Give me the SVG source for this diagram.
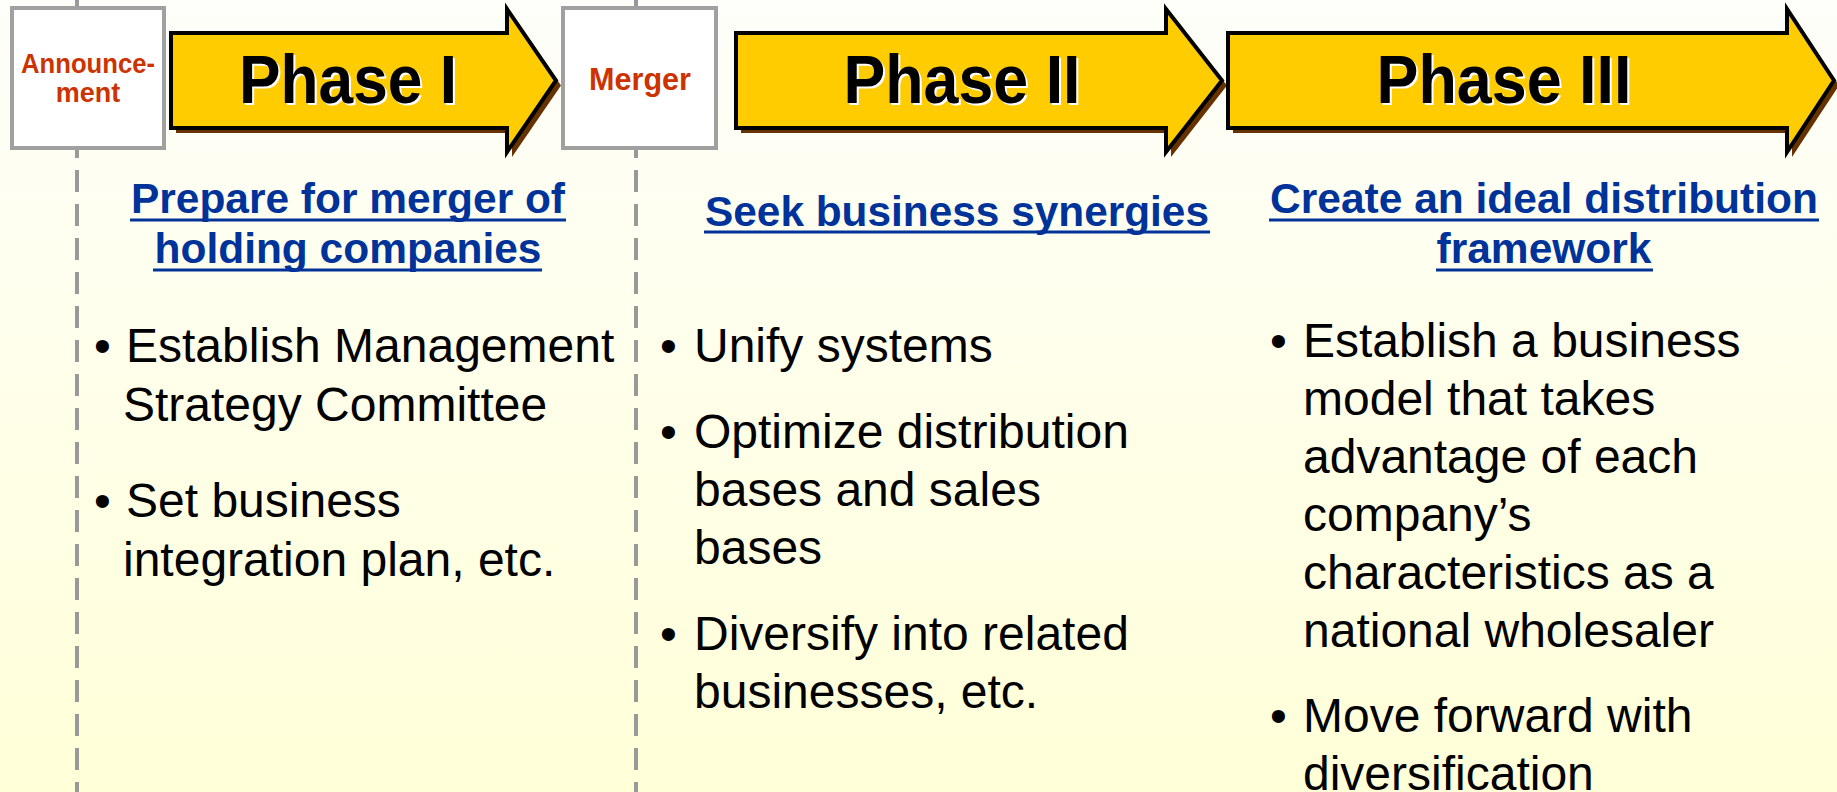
<svg xmlns="http://www.w3.org/2000/svg" width="1837" height="792" viewBox="0 0 1837 792">
  <defs>
    <linearGradient id="bg" x1="0" y1="0" x2="0" y2="1">
      <stop offset="0" stop-color="#FEFEFA"/>
      <stop offset="1" stop-color="#FFFFD8"/>
    </linearGradient>
  </defs>
  <style>
    .milestone { fill: #FFFFFF; stroke: #A0A0A0; stroke-width: 4; }
    .mtext { font-family: "Liberation Sans", Arial, sans-serif; font-weight: bold; fill: #CC3300; text-anchor: middle; }
    .divider { stroke: #999999; stroke-width: 4; stroke-dasharray: 22 12; fill: none; }
    .arrow { fill: #FFCC00; stroke: #000000; stroke-width: 4; stroke-linejoin: miter; }
    .shadow { fill: #663300; }
    .ptext { font-family: "Liberation Sans", Arial, sans-serif; font-weight: bold; font-size: 68px; text-anchor: middle; }
    .head { font-family: "Liberation Sans", Arial, sans-serif; font-weight: bold; font-size: 43px; fill: #003399; text-anchor: middle; }
    .uline { stroke: #003399; stroke-width: 3; }
    .body { font-family: "Liberation Sans", Arial, sans-serif; font-size: 48px; fill: #000000; }
  </style>
  <rect width="1837" height="792" fill="url(#bg)"/>

  <g id="connectors">
    <line class="divider" x1="77" y1="0" x2="77" y2="792"/>
    <line class="divider" x1="636" y1="0" x2="636" y2="792"/>
  </g>

  <g id="announcement">
    <rect class="milestone" x="12" y="8" width="152" height="140"/>
    <text class="mtext" x="88" y="73" font-size="27" textLength="134" lengthAdjust="spacingAndGlyphs">Announce-</text>
    <text class="mtext" x="88" y="102" font-size="27">ment</text>
  </g>

  <g id="merger">
    <rect class="milestone" x="563" y="8" width="153" height="140"/>
    <text class="mtext" x="640" y="90" font-size="31" textLength="102" lengthAdjust="spacingAndGlyphs">Merger</text>
  </g>

  <g id="phase1">
    <path class="shadow" d="M176,38 H512 V14 L561,85.5 L512,157 V133 H176 Z"/>
    <path class="arrow" d="M171,33 H507 V9 L556,80.5 L507,152 V128 H171 Z"/>
    <text class="ptext" x="350" y="105" fill="#FFFFFF" textLength="218" lengthAdjust="spacingAndGlyphs">Phase I</text>
    <text class="ptext" x="348" y="103" fill="#000000" textLength="218" lengthAdjust="spacingAndGlyphs">Phase I</text>
  </g>

  <g id="phase2">
    <path class="shadow" d="M741,38 H1171 V14 L1227,85.5 L1171,157 V133 H741 Z"/>
    <path class="arrow" d="M736,33 H1166 V9 L1222,80.5 L1166,152 V128 H736 Z"/>
    <text class="ptext" x="964" y="105" fill="#FFFFFF" textLength="237" lengthAdjust="spacingAndGlyphs">Phase II</text>
    <text class="ptext" x="962" y="103" fill="#000000" textLength="237" lengthAdjust="spacingAndGlyphs">Phase II</text>
  </g>

  <g id="phase3">
    <path class="shadow" d="M1233,38 H1792 V14 L1839,85.5 L1792,157 V133 H1233 Z"/>
    <path class="arrow" d="M1228,33 H1787 V9 L1834,80.5 L1787,152 V128 H1228 Z"/>
    <text class="ptext" x="1506" y="105" fill="#FFFFFF" textLength="255" lengthAdjust="spacingAndGlyphs">Phase III</text>
    <text class="ptext" x="1504" y="103" fill="#000000" textLength="255" lengthAdjust="spacingAndGlyphs">Phase III</text>
  </g>

  <g id="col1">
    <text class="head" x="348" y="213" textLength="434" lengthAdjust="spacingAndGlyphs">Prepare for merger of</text>
    <line class="uline" x1="130" y1="220" x2="566" y2="220"/>
    <text class="head" x="348" y="263" textLength="387" lengthAdjust="spacingAndGlyphs">holding companies</text>
    <line class="uline" x1="153" y1="270" x2="542" y2="270"/>
    <text class="body" x="94" y="362">•</text>
    <text class="body" x="126" y="362">Establish Management</text>
    <text class="body" x="123" y="421">Strategy Committee</text>
    <text class="body" x="94" y="517">•</text>
    <text class="body" x="126" y="517">Set business</text>
    <text class="body" x="123" y="576">integration plan, etc.</text>
  </g>

  <g id="col2">
    <text class="head" x="957" y="226" textLength="504" lengthAdjust="spacingAndGlyphs">Seek business synergies</text>
    <line class="uline" x1="704" y1="232" x2="1210" y2="232"/>
    <text class="body" x="660" y="362">•</text>
    <text class="body" x="694" y="362">Unify systems</text>
    <text class="body" x="660" y="448">•</text>
    <text class="body" x="694" y="448">Optimize distribution</text>
    <text class="body" x="694" y="506">bases and sales</text>
    <text class="body" x="694" y="564">bases</text>
    <text class="body" x="660" y="650">•</text>
    <text class="body" x="694" y="650">Diversify into related</text>
    <text class="body" x="694" y="708">businesses, etc.</text>
  </g>

  <g id="col3">
    <text class="head" x="1544" y="213" textLength="548" lengthAdjust="spacingAndGlyphs">Create an ideal distribution</text>
    <line class="uline" x1="1269" y1="220" x2="1819" y2="220"/>
    <text class="head" x="1544" y="263" textLength="215" lengthAdjust="spacingAndGlyphs">framework</text>
    <line class="uline" x1="1436" y1="270" x2="1653" y2="270"/>
    <text class="body" x="1270" y="357">•</text>
    <text class="body" x="1303" y="357">Establish a business</text>
    <text class="body" x="1303" y="415">model that takes</text>
    <text class="body" x="1303" y="473">advantage of each</text>
    <text class="body" x="1303" y="531">company’s</text>
    <text class="body" x="1303" y="589">characteristics as a</text>
    <text class="body" x="1303" y="647">national wholesaler</text>
    <text class="body" x="1270" y="732">•</text>
    <text class="body" x="1303" y="732">Move forward with</text>
    <text class="body" x="1303" y="790">diversification</text>
  </g>
</svg>
